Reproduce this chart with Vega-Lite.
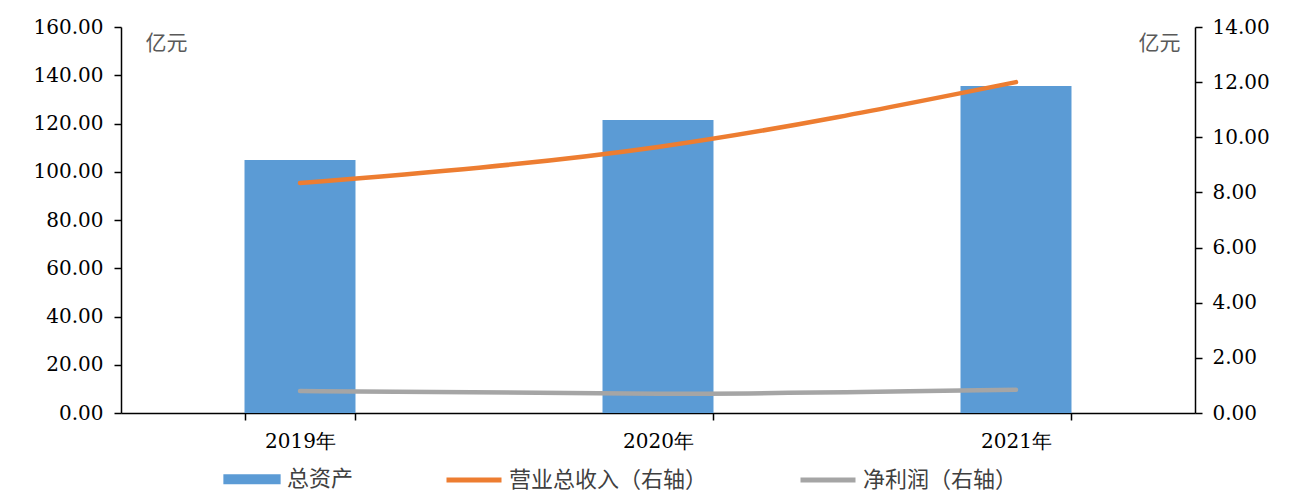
{
  "$schema": "https://vega.github.io/schema/vega-lite/v6.json",
  "width": 1074,
  "height": 386,
  "autosize": {"type": "none"},
  "padding": {"left": 121, "top": 27, "right": 99, "bottom": 81},
  "background": "white",
  "config": {"view": {"stroke": null}, "font": "DejaVu Serif"},
  "data": {
    "values": [
      {"year": "2019年", "series": "总资产", "value": 104.9},
      {"year": "2020年", "series": "总资产", "value": 121.4},
      {"year": "2021年", "series": "总资产", "value": 135.5},
      {"year": "2019年", "series": "营业总收入（右轴）", "value": 8.34},
      {"year": "2020年", "series": "营业总收入（右轴）", "value": 9.65},
      {"year": "2021年", "series": "营业总收入（右轴）", "value": 12.0},
      {"year": "2019年", "series": "净利润（右轴）", "value": 0.80},
      {"year": "2020年", "series": "净利润（右轴）", "value": 0.70},
      {"year": "2021年", "series": "净利润（右轴）", "value": 0.84}
    ]
  },
  "encoding": {
    "x": {
      "field": "year",
      "type": "nominal",
      "sort": null,
      "scale": {"paddingInner": 0.69, "paddingOuter": 0.345},
      "axis": {
        "title": null,
        "labelAngle": 0,
        "labelFont": "DejaVu Serif",
        "labelFontSize": 20,
        "labelColor": "#000000",
        "labelPadding": 11,
        "tickBand": "extent",
        "tickSize": 7,
        "tickColor": "#000000",
        "tickWidth": 1.5,
        "domainColor": "#000000",
        "domainWidth": 1.5,
        "encode": {"ticks": {"update": {"y2": {"value": -7}}}}
      }
    },
    "color": {
      "field": "series",
      "type": "nominal",
      "scale": {
        "domain": ["总资产", "营业总收入（右轴）", "净利润（右轴）"],
        "range": ["#5B9BD5", "#ED7D31", "#A5A5A5"]
      },
      "legend": {
        "title": null,
        "orient": "none",
        "legendX": 101,
        "legendY": 422,
        "direction": "horizontal",
        "columnPadding": 82,
        "labelFont": "Noto Sans CJK SC",
        "labelFontSize": 22,
        "labelColor": "#404040",
        "labelOffset": 5,
        "labelLimit": 400,
        "symbolSize": 3025,
        "symbolStrokeWidth": 5,
        "encode": {
          "symbols": {
            "update": {
              "shape": {"signal": "datum.value === '总资产' ? 'M-0.95,-0.09H0.95V0.09H-0.95Z' : 'M-1,0H1'"},
              "fill": {"signal": "datum.value === '总资产' ? '#5B9BD5' : 'transparent'"},
              "stroke": {"signal": "datum.value === '总资产' ? '#5B9BD5' : (datum.value === '营业总收入（右轴）' ? '#ED7D31' : '#A5A5A5')"},
              "strokeWidth": {"value": 5},
              "strokeJoin": {"value": "miter"},
              "opacity": {"value": 1}
            }
          }
        }
      }
    }
  },
  "layer": [
    {
      "transform": [{"filter": "datum.series === '总资产'"}],
      "mark": {"type": "bar"},
      "encoding": {
        "y": {
          "field": "value",
          "type": "quantitative",
          "scale": {"domain": [0, 160], "nice": false},
          "axis": {
            "values": [0, 20, 40, 60, 80, 100, 120, 140, 160],
            "format": ".2f",
            "grid": false,
            "title": "亿元",
            "titleAngle": 0,
            "titleX": 24,
            "titleY": 16,
            "titleAlign": "left",
            "titleBaseline": "middle",
            "titleFont": "Noto Sans CJK SC",
            "titleFontWeight": "normal",
            "titleFontSize": 21,
            "titleColor": "#595959",
            "labelFont": "DejaVu Serif",
            "labelFontSize": 20,
            "labelColor": "#000000",
            "labelPadding": 11,
            "tickSize": 7,
            "tickColor": "#000000",
            "tickWidth": 1.5,
            "domainColor": "#000000",
            "domainWidth": 1.5,
            "encode": {"ticks": {"update": {"x2": {"value": 7}}}}
          }
        }
      }
    },
    {
      "transform": [{"filter": "datum.series !== '总资产'"}],
      "mark": {"type": "line", "strokeWidth": 4.5, "interpolate": "monotone", "strokeCap": "round"},
      "encoding": {
        "y": {
          "field": "value",
          "type": "quantitative",
          "scale": {"domain": [0, 14], "nice": false},
          "axis": {
            "orient": "right",
            "values": [0, 2, 4, 6, 8, 10, 12, 14],
            "format": ".2f",
            "grid": false,
            "title": "亿元",
            "titleAngle": 0,
            "titleX": -15,
            "titleY": 16,
            "titleAlign": "right",
            "titleBaseline": "middle",
            "titleFont": "Noto Sans CJK SC",
            "titleFontWeight": "normal",
            "titleFontSize": 21,
            "titleColor": "#595959",
            "labelFont": "DejaVu Serif",
            "labelFontSize": 20,
            "labelColor": "#000000",
            "labelPadding": 10,
            "tickSize": 7,
            "tickColor": "#000000",
            "tickWidth": 1.5,
            "domainColor": "#000000",
            "domainWidth": 1.5,
            "encode": {"ticks": {"update": {"x2": {"value": -7}}}}
          }
        }
      }
    }
  ],
  "resolve": {"scale": {"y": "independent"}}
}
